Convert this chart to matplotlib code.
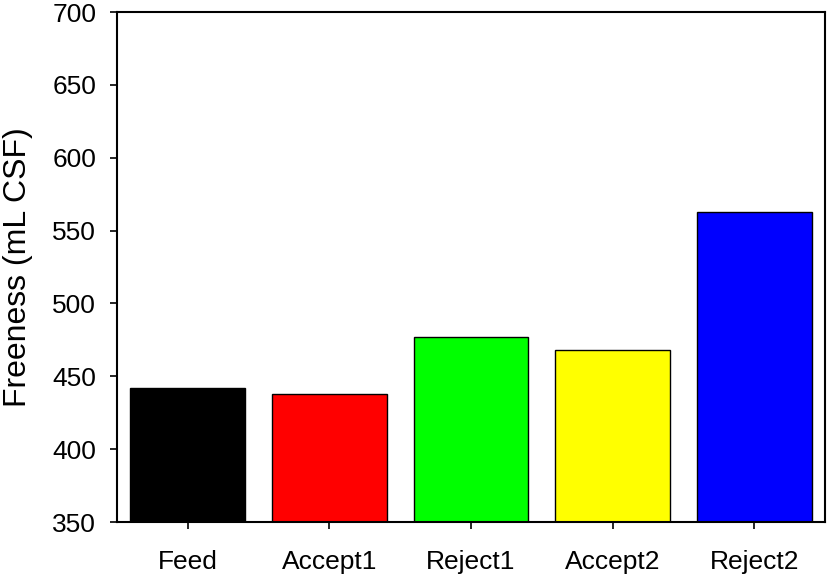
import matplotlib
matplotlib.use("Agg")
import matplotlib.pyplot as plt

plt.rcParams['font.family'] = ['Liberation Sans', 'DejaVu Sans']

categories = ['Feed', 'Accept1', 'Reject1', 'Accept2', 'Reject2']
freeness = [442, 438, 477, 468, 563]
colors = ['#000000', '#ff0000', '#00ff00', '#ffff00', '#0000ff']

fig = plt.figure(figsize=(8.27, 5.76), dpi=100)
ax = fig.add_axes([117/827, 1 - 522/576, (825-117)/827, (522-12)/576])

x = range(len(categories))
ax.bar(x, freeness, width=0.81, color=colors, edgecolor='black', linewidth=1.0, zorder=2)

ax.set_xlim(-0.5, 4.5)
ax.set_ylim(350, 700)
ax.set_xticks(list(x))
ax.set_xticklabels(categories)
ax.set_yticks(range(350, 701, 50))
ax.tick_params(direction='out', length=5, width=1.2, labelsize=19, pad=10)
ax.tick_params(axis='x', pad=15)
for s in ax.spines.values():
    s.set_linewidth(1.5)
ax.set_ylabel('Freeness (mL CSF)', fontsize=23, labelpad=14)

fig.savefig('out.png', dpi=100)
